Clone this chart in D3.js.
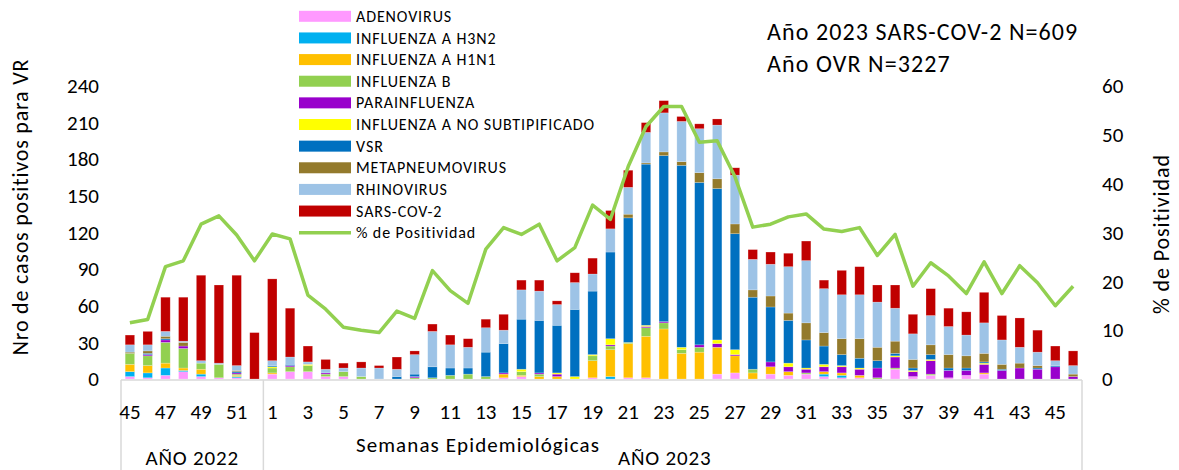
<!DOCTYPE html>
<html>
<head>
<meta charset="utf-8">
<script src="https://cdn.jsdelivr.net/npm/d3@7"></script>
<style>
  body { margin: 0; background: #fff; }
  text { font-family: Carlito, Calibri, Lato, sans-serif; fill: #000; }
</style>
</head>
<body>
<svg id="mainSVG" width="1179" height="470"></svg>
<script>
// Semanas epidemiologicas
var weeks2022 = [45, 46, 47, 48, 49, 50, 51, 52];
var weeks2023 = [1, 2, 3, 4, 5, 6, 7, 8, 9, 10, 11, 12, 13, 14, 15, 16, 17, 18, 19, 20, 21, 22, 23,
                 24, 25, 26, 27, 28, 29, 30, 31, 32, 33, 34, 35, 36, 37, 38, 39, 40, 41, 42, 43, 44, 45, 46];

var seriesNames = ["ADENOVIRUS", "INFLUENZA A H3N2", "INFLUENZA A H1N1", "INFLUENZA B", "PARAINFLUENZA",
                   "INFLUENZA A NO SUBTIPIFICADO", "VSR", "METAPNEUMOVIRUS", "RHINOVIRUS", "SARS-COV-2"];
var lineName = "% de Positividad";

// casos por semana (8 de 2022 + 46 de 2023)
var adeno = [2,1,3,6,2,1,1,0, 4,6,6,2,2,0,0,0,0,0,0,0, 0,1,2,0,0,0,1,0,1,1, 0,0,0,4,5,0,4,3,4,2, 1,1,0,8,2,3,1,3,4,0, 0,0,0,0];
var h3n2 = [4,4,6,1,2,0,1,0, 0,0,0,0,0,0,0,0,0,0,0,0, 0,0,0,0,0,0,0,2,0,0, 0,0,0,0,0,0,0,0,0,2, 2,0,0,0,0,0,0,0,0,0, 0,0,0,0];
var h1n1 = [6,6,4,2,4,0,1,0, 1,0,0,0,0,0,0,0,0,0,0,0, 0,3,1,2,2,0,14,22,28,34, 41,21,22,22,14,5,6,3,0,2, 2,2,0,0,0,0,0,0,1,0, 0,0,0,0];
var fluB = [9,8,17,16,5,11,1,0, 4,4,5,2,4,2,0,0,1,1,3,4, 2,0,3,2,0,0,4,3,1,7, 5,3,4,0,0,3,0,0,1,0, 0,0,1,1,0,1,0,0,0,0, 0,0,0,0];
var para = [0,1,2,2,0,0,1,0, 0,1,0,1,0,0,0,0,1,0,0,0, 0,1,0,1,2,0,0,1,0,1, 1,0,2,3,1,0,4,4,3,4, 5,5,8,9,4,11,6,4,7,7, 9,8,10,2];
var noSub = [0,0,0,0,0,0,0,0, 1,0,1,0,0,0,0,0,0,0,0,0, 0,0,2,0,1,2,1,5,0,1, 0,2,0,3,4,0,0,3,1,2, 1,1,0,1,1,1,0,0,1,0, 0,0,0,0];
var vsr = [0,1,1,0,0,0,1,0, 1,1,0,0,0,0,0,2,2,9,6,5, 20,24,41,43,39,55,52,71,102,132, 136,149,133,124,95,59,45,35,23,15, 9,8,6,2,2,4,2,2,1,1, 0,1,1,0];
var meta = [1,2,2,3,0,0,1,0, 0,0,0,0,0,0,0,0,0,0,0,0, 0,0,0,0,0,0,0,0,3,1, 3,3,8,8,8,6,9,6,14,11, 13,16,11,10,7,8,11,10,7,4, 4,2,0,2];
var rhino = [6,5,4,1,2,1,4,0, 4,6,2,3,3,7,9,6,16,29,19,17, 20,11,24,24,17,22,14,19,22,25, 32,33,36,44,40,25,26,38,51,36, 36,36,37,27,21,24,23,17,25,20, 13,11,4,7];
var sars = [8,11,28,36,70,64,74,38, 67,40,13,8,4,5,2,10,3,6,8,7, 7,13,8,9,3,8,13,15,14,8, 10,4,4,5,6,8,10,11,16,7, 20,23,14,19,16,22,15,19,25,20, 24,18,12,12];

// % de positividad
var positividad = [11.5,12.2,23.0,24.2,31.7,33.4,29.5,24.2, 29.7,28.7,17.2,14.3,10.6,10.0,9.5,13.9,12.4,22.2,18.1,15.5,
                   26.6,31.0,29.6,31.7,24.2,26.9,35.6,32.7,43.5,51.7, 55.8,55.8,48.5,48.8,41.4,31.1,31.7,33.2,33.8,30.7,
                   30.2,31.0,25.3,29.6,19.0,23.8,21.1,17.5,24.0,17.5, 23.2,19.7,15.0,19.0];

var leftTicks = [0, 30, 60, 90, 120, 150, 180, 210, 240];
var rightTicks = [0, 10, 20, 30, 40, 50, 60];

var colors = ["#ff99ff", "#00b0f0", "#ffc000", "#92d050", "#9900cc", "#ffff00", "#0070c0", "#937a2c", "#9dc3e6", "#c00000"];
var lineColor = "#92d050";

var mainSVG = d3.select("#mainSVG");

// Montando tabela
var values = [adeno, h3n2, h1n1, fluB, para, noSub, vsr, meta, rhino, sars];
var keys = weeks2022.map(function (w) { return "2022-" + w; })
	.concat(weeks2023.map(function (w) { return "2023-" + w; }));
var weekLabel = weeks2022.concat(weeks2023);
var table = keys.map(function (k, i) {
	var row = {key: k, week: weekLabel[i], pct: positividad[i]};
	seriesNames.forEach(function (s, j) { row[s] = values[j][i]; });
	return row;
});
var stacked = d3.stack().keys(seriesNames)(table);

// Escalas
var plotLeft = 121, plotRight = 1082, plotTop = 86, plotBottom = 379;
var xScale = d3.scaleBand().domain(keys).range([plotLeft, plotRight]).paddingInner(0.47).paddingOuter(0.235);
var yScale = d3.scaleLinear().domain([0, 240]).range([plotBottom, plotTop]);
var yScaleR = d3.scaleLinear().domain([0, 60]).range([plotBottom, plotTop]);

// Eixo esquerdo
var yAxisL = mainSVG.append("g")
	.attr("transform", "translate(" + plotLeft + ",0)")
	.call(d3.axisLeft(yScale).tickValues(leftTicks).tickSize(0).tickPadding(22));
yAxisL.select(".domain").remove();
yAxisL.selectAll("text").style("font-size", "21px").style("font-family", "Carlito, Calibri, Lato, sans-serif");

// Eixo direito
var yAxisR = mainSVG.append("g")
	.attr("transform", "translate(" + plotRight + ",0)")
	.call(d3.axisRight(yScaleR).tickValues(rightTicks).tickSize(0).tickPadding(20));
yAxisR.select(".domain").remove();
yAxisR.selectAll("text").style("font-size", "21px").style("font-family", "Carlito, Calibri, Lato, sans-serif");

// Barras empilhadas
mainSVG.append("g")
	.selectAll("g")
	.data(stacked)
	.enter().append("g")
	.attr("fill", function (d, i) { return colors[i]; })
	.selectAll("rect")
	.data(function (d) { return d; })
	.enter().append("rect")
	.attr("x", function (d) { return xScale(d.data.key); })
	.attr("y", function (d) { return yScale(d[1]); })
	.attr("width", xScale.bandwidth())
	.attr("height", function (d) { return yScale(d[0]) - yScale(d[1]); })
	.attr("stroke", "#ffffff")
	.attr("stroke-opacity", 0.35)
	.attr("stroke-width", 0.6);

// Linha de positividade
var line = d3.line()
	.x(function (d) { return xScale(d.key) + xScale.bandwidth() / 2; })
	.y(function (d) { return yScaleR(d.pct); });
mainSVG.append("path")
	.datum(table)
	.attr("d", line)
	.attr("fill", "none")
	.attr("stroke", lineColor)
	.attr("stroke-width", 3.5)
	.attr("stroke-linejoin", "round");

// Eixo X
var xAxisG = mainSVG.append("g").attr("class", "xaxis");
xAxisG.append("line")
	.attr("x1", plotLeft).attr("x2", plotRight)
	.attr("y1", plotBottom + 1).attr("y2", plotBottom + 1)
	.attr("stroke", "#d9d9d9").attr("stroke-width", 1.5);
var halfGap = xScale.step() * xScale.paddingInner() / 2;
var boxLines = [plotLeft, xScale("2023-1") - halfGap, plotRight];
xAxisG.selectAll(".sep")
	.data(boxLines)
	.enter().append("line")
	.attr("x1", function (d) { return d; })
	.attr("x2", function (d) { return d; })
	.attr("y1", plotBottom + 1).attr("y2", 470)
	.attr("stroke", "#d9d9d9").attr("stroke-width", 1.5);

xAxisG.selectAll(".wk")
	.data(table.filter(function (d, i) { return i % 2 == 0; }))
	.enter().append("text")
	.attr("x", function (d) { return xScale(d.key) + xScale.bandwidth() / 2; })
	.attr("y", 419)
	.attr("text-anchor", "middle")
	.style("font-size", "21px")
	.text(function (d) { return d.week; });

var mid2022 = (xScale(keys[0]) + xScale(keys[7]) + xScale.bandwidth()) / 2;
var mid2023 = (xScale("2023-1") + xScale("2023-46") + xScale.bandwidth()) / 2;
xAxisG.append("text").attr("x", mid2022).attr("y", 465).attr("text-anchor", "middle")
	.style("font-size", "21px").style("letter-spacing", "0.8px").text("AÑO 2022");
xAxisG.append("text").attr("x", mid2023 - 8).attr("y", 465).attr("text-anchor", "middle")
	.style("font-size", "21px").style("letter-spacing", "0.8px").text("AÑO 2023");
xAxisG.append("text").attr("x", 478).attr("y", 452).attr("text-anchor", "middle")
	.style("font-size", "21px").style("letter-spacing", "1.1px").text("Semanas Epidemiológicas");

// Titulos dos eixos
mainSVG.append("text")
	.attr("transform", "translate(28,207) rotate(-90)")
	.attr("text-anchor", "middle")
	.style("font-size", "22px")
	.style("letter-spacing", "0.8px")
	.text("Nro de casos positivos para VR");
mainSVG.append("text")
	.attr("transform", "translate(1169,234) rotate(-90)")
	.attr("text-anchor", "middle")
	.style("font-size", "22px")
	.style("letter-spacing", "0.9px")
	.text("% de Positividad");

// Anotacoes
mainSVG.append("text").attr("x", 767).attr("y", 40).style("font-size", "24px").style("letter-spacing", "1.1px")
	.text("Año 2023 SARS-COV-2 N=609");
mainSVG.append("text").attr("x", 767).attr("y", 72).style("font-size", "24px").style("letter-spacing", "1.1px")
	.text("Año OVR N=3227");

// Legenda
var legendY = d3.scalePoint().domain(d3.range(11)).range([16.3, 232.7]);
var legend = mainSVG.append("g").attr("class", "legend");
legend.selectAll("rect")
	.data(seriesNames)
	.enter().append("rect")
	.attr("x", 299)
	.attr("y", function (d, i) { return legendY(i) - 5.5; })
	.attr("width", 52)
	.attr("height", 11)
	.attr("fill", function (d, i) { return colors[i]; });
legend.append("line")
	.attr("x1", 299).attr("x2", 351)
	.attr("y1", legendY(10)).attr("y2", legendY(10))
	.attr("stroke", lineColor).attr("stroke-width", 3.5);
legend.selectAll("text")
	.data(seriesNames.concat([lineName]))
	.enter().append("text")
	.attr("x", 356)
	.attr("y", function (d, i) { return legendY(i); })
	.attr("dy", "0.35em")
	.style("font-size", "16px")
	.style("letter-spacing", "0.9px")
	.text(function (d) { return d; });
</script>
</body>
</html>
